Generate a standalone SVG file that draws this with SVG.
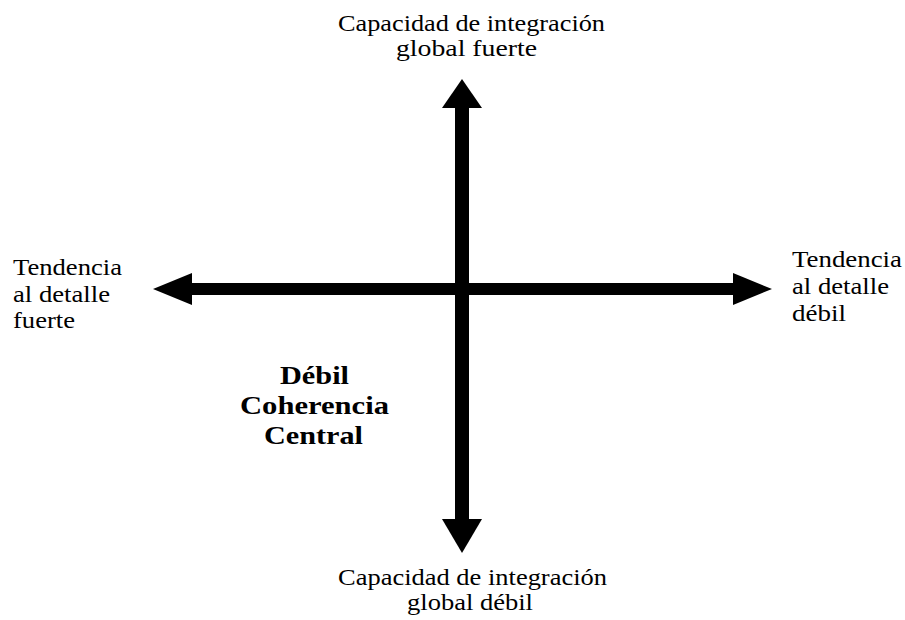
<svg xmlns="http://www.w3.org/2000/svg" width="905" height="620" viewBox="0 0 905 620">
<style>
  .lbl { font-family: "Liberation Serif", "Times New Roman", serif; font-size: 24px; fill: #000; }
  .side { font-size: 23px; }
  .bold { font-family: "Liberation Serif", "Times New Roman", serif; font-size: 25px; font-weight: bold; fill: #000; }
  .shaft { stroke: #000; fill: none; }
  .head { fill: #000; stroke: none; }
</style>
<rect width="905" height="620" fill="#fff"/>
<g id="connectors">
  <line class="shaft" x1="462" y1="106" x2="462" y2="521" stroke-width="14"/>
  <line class="shaft" x1="190" y1="289" x2="735" y2="289" stroke-width="12"/>
  <polygon class="head" points="462,79 482,108 442,108"/>
  <polygon class="head" points="462,553 482,519 442,519"/>
  <polygon class="head" points="153,289 192,273 192,305"/>
  <polygon class="head" points="772,289 733,273 733,305"/>
</g>
<g id="top-label">
  <text class="lbl" x="338" y="31" textLength="267" lengthAdjust="spacingAndGlyphs">Capacidad de integración</text>
  <text class="lbl" x="396" y="56" textLength="141" lengthAdjust="spacingAndGlyphs">global fuerte</text>
</g>
<g id="bottom-label">
  <text class="lbl" x="338" y="585" textLength="269" lengthAdjust="spacingAndGlyphs">Capacidad de integración</text>
  <text class="lbl" x="407" y="610" textLength="126" lengthAdjust="spacingAndGlyphs">global débil</text>
</g>
<g id="left-label">
  <text class="lbl side" x="13" y="275" textLength="109" lengthAdjust="spacingAndGlyphs">Tendencia</text>
  <text class="lbl side" x="13" y="302" textLength="97" lengthAdjust="spacingAndGlyphs">al detalle</text>
  <text class="lbl side" x="13" y="328" textLength="62" lengthAdjust="spacingAndGlyphs">fuerte</text>
</g>
<g id="right-label">
  <text class="lbl side" x="792" y="267" textLength="110" lengthAdjust="spacingAndGlyphs">Tendencia</text>
  <text class="lbl side" x="792" y="294" textLength="97" lengthAdjust="spacingAndGlyphs">al detalle</text>
  <text class="lbl side" x="792" y="321" textLength="54" lengthAdjust="spacingAndGlyphs">débil</text>
</g>
<g id="quadrant-label">
  <text class="bold" x="280" y="384" textLength="69" lengthAdjust="spacingAndGlyphs">Débil</text>
  <text class="bold" x="240" y="414" textLength="149" lengthAdjust="spacingAndGlyphs">Coherencia</text>
  <text class="bold" x="264" y="444" textLength="99" lengthAdjust="spacingAndGlyphs">Central</text>
</g>
</svg>
